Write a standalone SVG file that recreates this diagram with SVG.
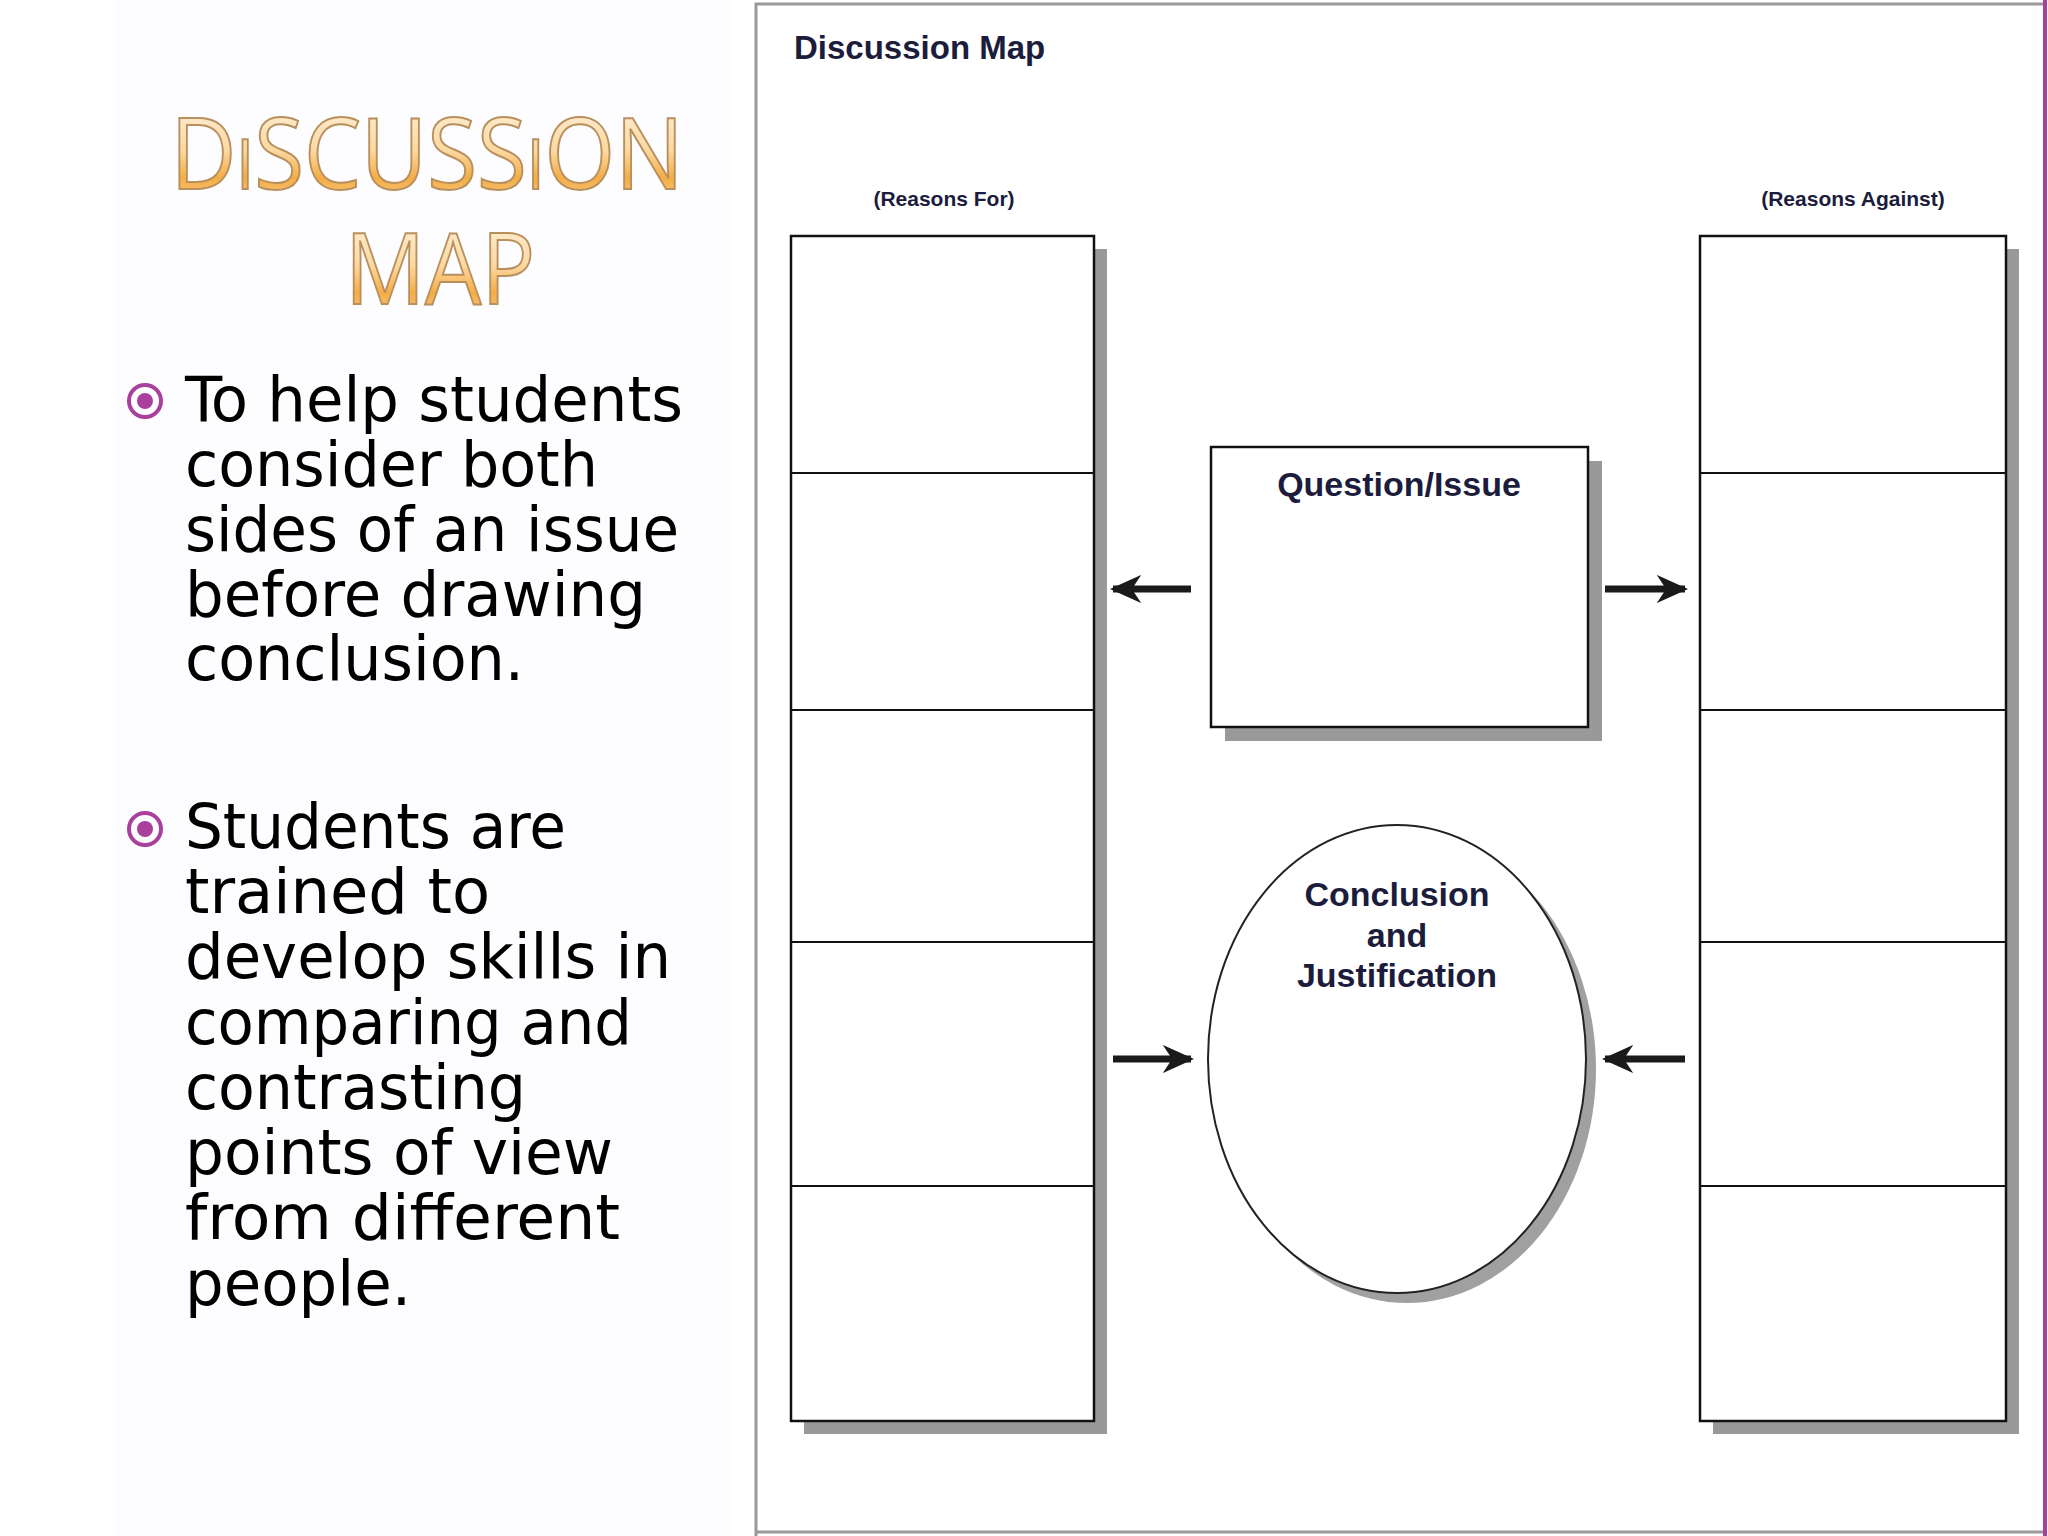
<svg xmlns="http://www.w3.org/2000/svg" width="2048" height="1536" viewBox="0 0 2048 1536">
<defs>
<linearGradient id="tg" x1="0" y1="0" x2="0" y2="1">
<stop offset="0" stop-color="#fff8ee"/><stop offset="0.5" stop-color="#fbd8a0"/><stop offset="0.7" stop-color="#f4ad45"/><stop offset="1" stop-color="#fbd9a8"/>
</linearGradient>
<marker id="ah" viewBox="0 0 10 10" refX="9" refY="5" markerWidth="4.5" markerHeight="4.5" orient="auto"><path d="M0,0.5 L10,5 L0,9.5 L3,5 Z" fill="#1a1a1a"/></marker>
</defs>
<style>
.t{font-family:"DejaVu Sans Condensed","DejaVu Sans",sans-serif;font-size:62px;fill:#000}
.lbl{font-family:"Liberation Sans",sans-serif;font-weight:bold;fill:#1c1c3c}
.box{fill:#fff;stroke:#111;stroke-width:2.5}
.sh{fill:#999}
.dv{stroke:#111;stroke-width:2}
.ar{stroke:#1a1a1a;stroke-width:7;fill:none;marker-end:url(#ah)}
</style>
<rect width="2048" height="1536" fill="#fff"/>
<rect x="115" y="0" width="615" height="1536" fill="#fdfdff"/>
<g id="title">
<text x="427" y="189" text-anchor="middle" font-family="'Open Sans',sans-serif" font-size="98" font-variant="small-caps" fill="url(#tg)" stroke="#b8905e" stroke-width="2" textLength="513" lengthAdjust="spacingAndGlyphs">DiSCUSSiON</text>
<text x="440" y="304" text-anchor="middle" font-family="'Open Sans',sans-serif" font-size="98" fill="url(#tg)" stroke="#b8905e" stroke-width="2" textLength="190" lengthAdjust="spacingAndGlyphs">MAP</text>
</g>
<g id="bullets">
<circle cx="145" cy="401" r="16" fill="none" stroke="#a8409c" stroke-width="4"/><circle cx="145" cy="401" r="8" fill="#a8409c"/>
<circle cx="145" cy="829" r="16" fill="none" stroke="#a8409c" stroke-width="4"/><circle cx="145" cy="829" r="8" fill="#a8409c"/>
<text class="t" x="185" y="421" textLength="498" lengthAdjust="spacingAndGlyphs">To help students</text>
<text class="t" x="185" y="486" textLength="413" lengthAdjust="spacingAndGlyphs">consider both</text>
<text class="t" x="185" y="551" textLength="494" lengthAdjust="spacingAndGlyphs">sides of an issue</text>
<text class="t" x="185" y="616" textLength="461" lengthAdjust="spacingAndGlyphs">before drawing</text>
<text class="t" x="185" y="680" textLength="339" lengthAdjust="spacingAndGlyphs">conclusion.</text>
<text class="t" x="185" y="848" textLength="381" lengthAdjust="spacingAndGlyphs">Students are</text>
<text class="t" x="185" y="913" textLength="305" lengthAdjust="spacingAndGlyphs">trained to</text>
<text class="t" x="185" y="978" textLength="486" lengthAdjust="spacingAndGlyphs">develop skills in</text>
<text class="t" x="185" y="1044" textLength="447" lengthAdjust="spacingAndGlyphs">comparing and</text>
<text class="t" x="185" y="1109" textLength="341" lengthAdjust="spacingAndGlyphs">contrasting</text>
<text class="t" x="185" y="1174" textLength="428" lengthAdjust="spacingAndGlyphs">points of view</text>
<text class="t" x="185" y="1239" textLength="435" lengthAdjust="spacingAndGlyphs">from different</text>
<text class="t" x="185" y="1305" textLength="226" lengthAdjust="spacingAndGlyphs">people.</text>
</g>
<g id="frame">
<path d="M756,1536 V4 H2044" fill="none" stroke="#999" stroke-width="3"/>
<path d="M756,1532 H2044" fill="none" stroke="#999" stroke-width="3"/>
<line x1="2045" y1="0" x2="2045" y2="1536" stroke="#a8409c" stroke-width="4"/>
<text class="lbl" x="794" y="59" font-size="33">Discussion Map</text>
</g>
<g id="reasons-for">
<text class="lbl" x="944" y="206" font-size="21" text-anchor="middle">(Reasons For)</text>
<rect class="sh" x="804" y="249" width="303" height="1185"/>
<rect class="box" x="791" y="236" width="303" height="1185"/>
<line class="dv" x1="791" y1="473" x2="1094" y2="473"/>
<line class="dv" x1="791" y1="710" x2="1094" y2="710"/>
<line class="dv" x1="791" y1="942" x2="1094" y2="942"/>
<line class="dv" x1="791" y1="1186" x2="1094" y2="1186"/>
</g>
<g id="reasons-against">
<text class="lbl" x="1853" y="206" font-size="21" text-anchor="middle">(Reasons Against)</text>
<rect class="sh" x="1713" y="249" width="306" height="1185"/>
<rect class="box" x="1700" y="236" width="306" height="1185"/>
<line class="dv" x1="1700" y1="473" x2="2006" y2="473"/>
<line class="dv" x1="1700" y1="710" x2="2006" y2="710"/>
<line class="dv" x1="1700" y1="942" x2="2006" y2="942"/>
<line class="dv" x1="1700" y1="1186" x2="2006" y2="1186"/>
</g>
<g id="question">
<rect class="sh" x="1225" y="461" width="377" height="280"/>
<rect class="box" x="1211" y="447" width="377" height="280"/>
<text class="lbl" x="1399" y="496" font-size="34" text-anchor="middle">Question/Issue</text>
</g>
<g id="conclusion">
<ellipse cx="1407" cy="1069" rx="189" ry="234" fill="#a0a0a0"/>
<ellipse cx="1397" cy="1059" rx="189" ry="234" fill="#fff" stroke="#222" stroke-width="2"/>
<text class="lbl" x="1397" y="906" font-size="34" text-anchor="middle">Conclusion</text>
<text class="lbl" x="1397" y="947" font-size="34" text-anchor="middle">and</text>
<text class="lbl" x="1397" y="987" font-size="34" text-anchor="middle">Justification</text>
</g>
<g id="connectors">
<line class="ar" x1="1191" y1="589" x2="1113" y2="589"/>
<line class="ar" x1="1605" y1="589" x2="1685" y2="589"/>
<line class="ar" x1="1113" y1="1059" x2="1191" y2="1059"/>
<line class="ar" x1="1685" y1="1059" x2="1605" y2="1059"/>
</g>
</svg>
